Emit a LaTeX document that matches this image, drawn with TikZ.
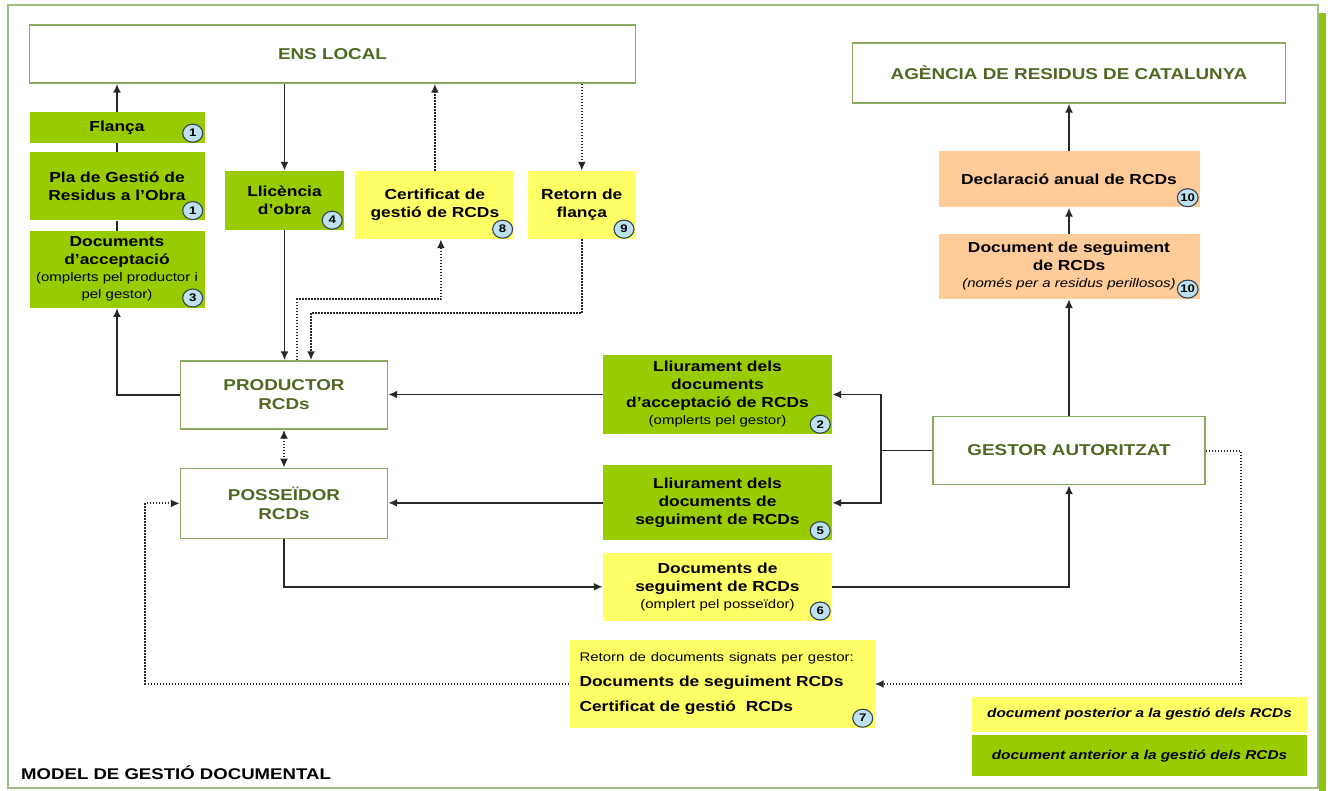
\documentclass[tikz,border=0pt]{standalone}
\usepackage{fontspec}
\setmainfont[FakeStretch=1.2]{Liberation Sans}
\usepackage{tikz}
\usetikzlibrary{positioning,arrows.meta,shapes.geometric}
\usepackage{xcolor}

\definecolor{boxgreen}{RGB}{153,204,0}
\definecolor{boxyellow}{RGB}{255,255,102}
\definecolor{boxorange}{RGB}{255,204,153}
\definecolor{boxline}{RGB}{135,170,95}
\definecolor{framegreen}{RGB}{160,190,130}
\definecolor{edgegreen}{RGB}{140,195,20}
\definecolor{titlegreen}{RGB}{79,105,35}
\definecolor{badgeblue}{RGB}{190,225,240}
\definecolor{badgeline}{RGB}{55,65,85}
\definecolor{linegray}{RGB}{40,40,40}

\newcommand{\smallf}{\fontsize{12.5}{15}\selectfont\mdseries}
\newcommand{\badge}[2]{\node[badge] (#1-n) at ([xshift=-12pt,yshift=10pt]#1.south east) {#2};}

\begin{document}
\begin{tikzpicture}[x=1pt, y=-1pt,
      entity/.style={draw=boxline, line width=1.4pt, fill=white, text=titlegreen, align=center,
                     inner sep=0pt, font=\fontsize{15.7}{19}\selectfont\bfseries},
      docbox/.style={align=center, inner sep=0pt, font=\fontsize{14.5}{18}\selectfont\bfseries},
      predoc/.style={docbox, fill=boxgreen},
      postdoc/.style={docbox, fill=boxyellow},
      annual/.style={docbox, fill=boxorange},
      wh/.style 2 args={minimum width=#1pt, minimum height=#2pt},
      badge/.style={ellipse, draw=badgeline, line width=1.1pt, fill=badgeblue, minimum width=20pt,
                    minimum height=18pt, inner sep=0pt, font=\fontsize{11}{11}\selectfont\bfseries},
      flow/.style={draw=linegray, line width=1.8pt},
      dotflow/.style={flow, line width=2pt, dash pattern=on 1.6pt off 1.4pt},
      >={Latex[length=9pt,width=8pt]}]
    \useasboundingbox (0,0) rectangle (1328,791);
    \draw[framegreen, line width=2pt] (8,5) rectangle (1318,788);
    \fill[edgegreen] (1319,13) rectangle (1326,791);

    \node[entity, wh={606}{58}] (ens) at (332.5,54) {ENS LOCAL};
    \node[entity, wh={433}{60}] (arc) at (1069,73) {AGÈNCIA DE RESIDUS DE CATALUNYA};

    \node[predoc, wh={175}{31}] (flanca) at (117,127.5) {Flança};
    \node[predoc, wh={175}{68}, below=9pt of flanca] (pla) {Pla de Gestió de\\Residus a l’Obra};
    \node[predoc, wh={175}{77}, below=10pt of pla] (docacc) {Documents\\d’acceptació\\[-1pt]{\smallf (omplerts pel productor i}\\[-1pt]{\smallf pel gestor)}};
    \node[predoc, wh={119}{59}] (llic) at (284.5,200.5) {Llicència\\d’obra};
    \node[postdoc, wh={159}{68}, anchor=north west] (cert) at ([xshift=11pt]llic.north east) {Certificat de\\gestió de RCDs};
    \node[postdoc, wh={108}{68}, anchor=north west] (retfl) at ([xshift=13pt]cert.north east) {Retorn de\\flança};

    \node[annual, wh={261}{56}] (decl) at (1069,179.5) {Declaració anual de RCDs};
    \node[annual, wh={261}{65}, below=26pt of decl] (dseg) {Document de seguiment\\de RCDs\\[-1pt]{\smallf\itshape (només per a residus perillosos)}};

    \node[entity, wh={207}{68}] (prod) at (284,395) {PRODUCTOR\\RCDs};
    \node[entity, wh={207}{70}, below=38pt of prod] (poss) {POSSEÏDOR\\RCDs};

    \node[predoc, wh={229}{79}] (lliu1) at (717.5,394.5) {Lliurament dels\\documents\\d’acceptació de RCDs\\[-1pt]{\smallf (omplerts pel gestor)}};
    \node[predoc, wh={229}{75}, below=31pt of lliu1] (lliu2) {Lliurament dels\\documents de\\seguiment de RCDs};
    \node[postdoc, wh={229}{68}, below=12pt of lliu2] (dposs) {Documents de\\seguiment de RCDs\\[-1pt]{\smallf (omplert pel posseïdor)}};
    \node[entity, wh={272}{68}] (gestor) at (1069,450.5) {GESTOR AUTORITZAT};

    \node[postdoc, wh={305}{88}, text width=285pt, inner xsep=10pt, align=left] (retdoc) at (722,684)
      {{\smallf Retorn de documents signats per gestor:}\\[7pt] Documents de seguiment RCDs\\[7pt] Certificat de gestió\ \ RCDs};

    \node[postdoc, wh={335}{35}, font=\fontsize{12.8}{15}\selectfont\bfseries\itshape] (leg1) at (1139.5,714.5) {document posterior a la gestió dels RCDs};
    \node[predoc, wh={335}{41}, below=3pt of leg1, font=\fontsize{12.8}{15}\selectfont\bfseries\itshape] (leg2) {document anterior a la gestió dels RCDs};
    \node[anchor=base west, inner sep=0pt, font=\fontsize{15.5}{18}\selectfont\bfseries] (title) at (21,779) {MODEL DE GESTIÓ DOCUMENTAL};

    \badge{flanca}{1}
    \badge{pla}{1}
    \badge{docacc}{3}
    \badge{llic}{4}
    \badge{cert}{8}
    \badge{retfl}{9}
    \badge{decl}{10}
    \badge{dseg}{10}
    \badge{lliu1}{2}
    \badge{lliu2}{5}
    \badge{dposs}{6}
    \badge{retdoc}{7}

    \draw[flow,->] (prod.west) -| (docacc.south);
    \draw[flow] (docacc.north) -- (pla.south) (pla.north) -- (flanca.south);
    \draw[flow,->] (flanca.north) -- (flanca.north |- ens.south);
    \draw[flow,->] (llic.north |- ens.south) -- (llic.north);
    \draw[flow,->] (llic.south) -- (llic.south |- prod.north);
    \draw[dotflow,->] ([xshift=13pt]prod.north) -- ++(0,-61) -| ([xshift=6pt]cert.south);
    \draw[dotflow,->] (cert.north) -- (cert.north |- ens.south);
    \draw[dotflow,->] (retfl.north |- ens.south) -- (retfl.north);
    \draw[dotflow,->] (retfl.south) -- ++(0,74) -| ([xshift=27pt]prod.north);
    \draw[dotflow,<->] (prod.south) -- (poss.north);
    \draw[flow,->] (lliu1.west) -- (lliu1.west -| prod.east);
    \draw[flow,->] (lliu2.west) -- (lliu2.west -| poss.east);
    \coordinate (fork) at ([xshift=-51pt]gestor.west);
    \draw[flow] (gestor.west) -- (fork);
    \draw[flow,->] (fork) |- (lliu1.east);
    \draw[flow,->] (fork) |- (lliu2.east);
    \draw[flow,->] (poss.south) |- (dposs.west);
    \draw[flow,->] (dposs.east) -| (gestor.south);
    \draw[flow,->] (gestor.north) -- (dseg.south);
    \draw[flow,->] (dseg.north) -- (decl.south);
    \draw[flow,->] (decl.north) -- (arc.south);
    \draw[dotflow,->] (gestor.east) -- ++(35,0) |- (retdoc.east);
    \draw[dotflow,->] (retdoc.west) -- ++(-424,0) |- (poss.west);
  \end{tikzpicture}
\end{document}
